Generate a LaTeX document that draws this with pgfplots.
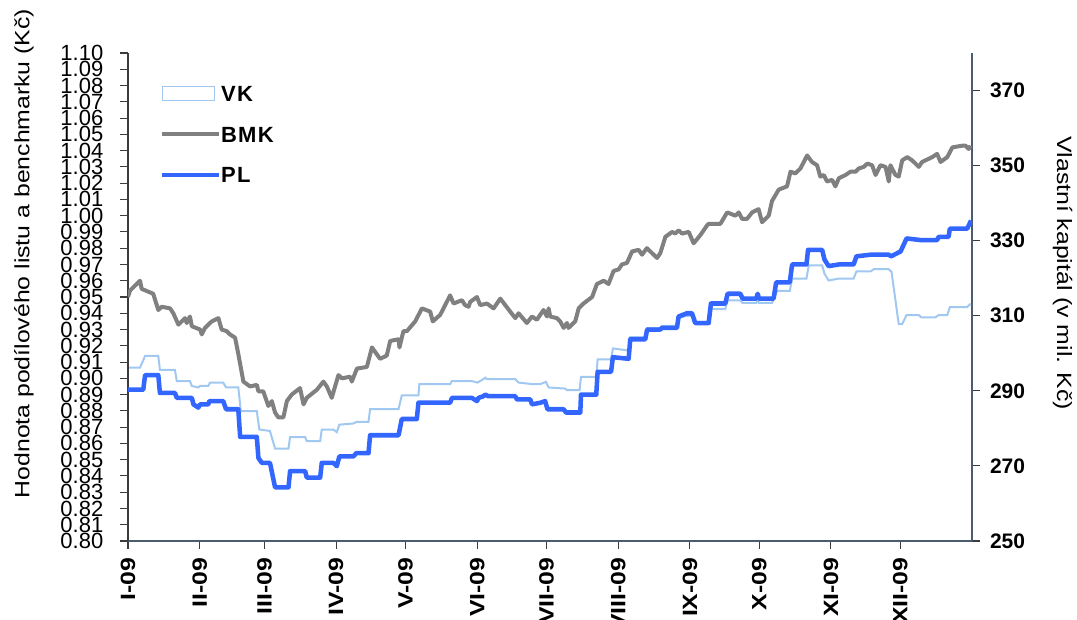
\documentclass[border=0pt]{standalone}
\usepackage{pgfplots}
\pgfplotsset{compat=1.18}
\usepackage{fontspec}
\setmainfont{Liberation Sans}
\usepackage{graphicx}
\definecolor{bmk}{RGB}{128,128,128}
\definecolor{pl}{RGB}{51,102,255}
\definecolor{vk}{RGB}{160,200,240}
\definecolor{axc}{RGB}{60,60,60}
\definecolor{axb}{RGB}{75,92,112}
\newcommand{\xl}[1]{\scalebox{1.2}[1]{#1}}
\begin{document}
\begin{tikzpicture}
\pgfplotsset{
  base/.style={scale only axis, width=633pt, height=366pt, xmin=0, xmax=365,
    at={(0,0)}, anchor=south west, tick align=outside, major tick length=6pt,
    /pgf/number format/assume math mode=true},
}
% right axis: VK
\begin{axis}[base, axis x line=none, axis y line*=right,
  ymin=250, ymax=380, ytick={250,270,290,310,330,350,370},
  yticklabel style={font=\bfseries\fontsize{15.75}{16}\selectfont},
  yticklabel shift=4pt,
  y axis line style={axb, line width=1pt}, ytick style={axc, line width=0.8pt},
  ylabel={\scalebox{1.2}[1]{\fontsize{15.5}{16}\selectfont Vlastní kapitál (v mil. Kč)}},
  ylabel style={at={(axis description cs:1.1074,0.549)}, anchor=center, rotate=180},
]
\addplot[vk, line width=1.5pt] coordinates {
(0,296.2) (5.2,296.2) (7.4,299.3) (13.1,299.3) (13.8,295.6) (20.3,295.6) (21.1,292.6) (26.8,292.6)
(27.6,291.3) (30.4,290.9) (31.2,291.3) (34.7,291.3) (35.5,292.2) (41.2,292.2) (42.4,290.9) (47.7,290.9)
(48.8,284.6) (55.7,284.6) (56.8,279.7) (61.4,279.3) (63.6,274.6) (69.4,274.6) (70.1,277.7) (76.6,277.7)
(77.3,276.6) (83.1,276.6) (83.8,279.7) (88.8,279.7) (90.3,279.0) (91.4,281.0) (97.5,281.3) (98.7,281.7)
(104.0,281.7) (104.7,285.1) (117.0,285.1) (118.4,288.8) (125.6,288.8) (126.0,291.8) (139.3,291.8)
(140.1,292.6) (148.7,292.6) (151.1,292.2) (153.1,292.9) (154.5,293.5) (155.2,293.1) (167.5,293.1)
(168.9,292.2) (174.7,291.8) (178.3,291.8) (180.7,292.4) (181.9,290.9) (189.1,290.6) (189.8,290.2)
(195.3,290.2) (195.9,293.7) (202.5,293.7) (203.1,298.4) (208.9,298.4) (209.7,301.3) (216.9,300.7)
(217.2,304.3) (223.7,304.3) (224.5,306.7) (230.2,306.7) (230.9,307.3) (237.4,307.3) (238.1,309.4)
(241.7,310.0) (243.9,310.0) (245.3,308.4) (251.1,308.4) (252.1,311.8) (258.3,311.8) (259.3,314.1)
(264.8,314.1) (265.8,313.4) (271.7,313.4) (272.3,314.1) (272.9,313.4) (278.5,313.4) (280.7,316.6)
(286.2,316.6) (287.2,319.9) (293.4,319.9) (294.4,323.4) (300.2,323.4) (301.2,321.2) (303.0,319.4)
(307.4,319.9) (313.8,319.9) (315.0,321.8) (321.1,321.8) (322.5,322.4) (329.0,322.4) (330.2,321.7)
(333.3,307.8) (334.8,307.8) (336.7,310.2) (342.0,310.2) (343.0,309.6) (349.2,309.6) (350.6,310.2)
(354.3,310.2) (355.4,312.3) (362.9,312.3) (364.4,313.2)
};
\end{axis}
% left axis: BMK, PL
\begin{axis}[base, axis x line*=bottom, axis y line*=left,
  ymin=0.80, ymax=1.10,
  ytick={0.80,0.81,0.82,0.83,0.84,0.85,0.86,0.87,0.88,0.89,0.90,0.91,0.92,0.93,0.94,0.95,0.96,0.97,0.98,0.99,1.00,1.01,1.02,1.03,1.04,1.05,1.06,1.07,1.08,1.09,1.10},
  yticklabel style={font=\fontsize{16.5}{17}\selectfont, /pgf/number format/.cd, fixed, fixed zerofill, precision=2},
  yticklabel shift=9pt,
  xtick={0,31,59,90,120,151,181,212,243,273,304,334},
  xticklabels={\xl{I-09},\xl{II-09},\xl{III-09},\xl{IV-09},\xl{V-09},\xl{VI-09},\xl{VII-09},\xl{VIII-09},\xl{IX-09},\xl{X-09},\xl{XI-09},\xl{XII-09}},
  xticklabel style={font=\bfseries\fontsize{15.5}{16}\selectfont, rotate=90, anchor=east},
  xticklabel shift=3pt,
  x axis line style={axb, line width=1pt}, y axis line style={axc, line width=1pt},
  xtick style={axc, line width=0.8pt}, ytick style={axc, line width=0.8pt},
  ylabel={\scalebox{1.2}[1]{\fontsize{15.5}{16}\selectfont Hodnota podílového listu a benchmarku (Kč)}},
  ylabel style={at={(axis description cs:-0.1232,0.589)}, anchor=center},
  legend image code/.code={\draw[#1] (0pt,0pt) -- (42.75pt,0pt);},
  legend style={draw=none, fill=none, at={(0.037,0.934)}, anchor=north west, inner sep=0pt,
    row sep=18.5pt, column sep=0pt,
    font=\bfseries\fontsize{16.5}{17}\selectfont\addfontfeature{LetterSpace=6},
    nodes={inner sep=0pt, text height=12pt, text depth=0pt}},
  legend cell align=left,
]
\addlegendimage{legend image code/.code={\draw[vk, line width=1pt, fill=white] (0.75pt,-5.25pt) rectangle (39.75pt,5.25pt);}}
\addlegendentry{VK}
\addplot[bmk, line width=3pt, line join=round] coordinates {
(0,0.950) (0.9,0.954) (5.2,0.960) (5.9,0.955) (10.9,0.952) (13.1,0.942) (14.6,0.944) (18.2,0.943)
(19.6,0.940) (21.8,0.933) (24.7,0.937) (25.4,0.934) (26.8,0.938) (27.6,0.932) (31.2,0.930) (31.9,0.927)
(33.3,0.931) (36.2,0.935) (39.1,0.937) (40.5,0.930) (42.7,0.929) (44.1,0.927) (46.3,0.925) (47.7,0.915)
(49.9,0.898) (52.8,0.895) (55.7,0.896) (56.4,0.892) (58.5,0.892) (60.7,0.883) (62.2,0.886) (63.6,0.879)
(65.0,0.876) (67.2,0.876) (68.7,0.886) (70.8,0.890) (74.4,0.894) (75.9,0.884) (77.3,0.888) (81.7,0.893)
(84.5,0.898) (86.0,0.895) (88.1,0.888) (91.0,0.902) (92.5,0.900) (96.1,0.901) (96.8,0.898) (99.0,0.906)
(103.3,0.907) (105.5,0.919) (109.0,0.912) (111.9,0.914) (113.4,0.923) (117.0,0.924) (117.4,0.919)
(119.1,0.929) (120.6,0.929) (124.2,0.935) (127.1,0.943) (130.7,0.941) (131.8,0.935) (135.0,0.939)
(139.3,0.951) (140.8,0.946) (144.4,0.948) (145.8,0.945) (147.3,0.944) (148.0,0.947) (150.9,0.950)
(152.3,0.945) (155.2,0.946) (158.1,0.943) (161.0,0.949) (165.3,0.941) (167.5,0.937) (168.9,0.940)
(172.5,0.934) (174.7,0.938) (176.8,0.936) (179.7,0.942) (181.2,0.938) (181.9,0.943) (182.6,0.938)
(185.5,0.937) (186.9,0.935) (188.4,0.931) (189.8,0.934) (190.5,0.931) (193.4,0.935) (194.9,0.943)
(197.0,0.946) (200.7,0.950) (202.8,0.958) (205.7,0.960) (207.8,0.958) (210.0,0.966) (212.2,0.967)
(213.6,0.970) (215.8,0.971) (218.0,0.978) (220.8,0.979) (222.3,0.976) (224.4,0.980) (228.8,0.974)
(230.2,0.977) (232.4,0.987) (235.3,0.990) (236.7,0.989) (238.1,0.991) (239.6,0.989) (242.5,0.990)
(244.6,0.983) (247.5,0.988) (250.4,0.994) (251.1,0.995) (256.2,0.995) (259.1,1.002) (262.7,1.000)
(264.1,1.002) (265.6,0.998) (267.7,0.998) (269.9,1.002) (272.7,1.004) (274.2,0.996) (277.1,1.000)
(278.5,1.009) (281.4,1.016) (285.0,1.018) (286.5,1.027) (288.6,1.026) (290.8,1.029) (293.7,1.037)
(295.8,1.033) (298.0,1.031) (299.4,1.024) (300.9,1.025) (302.3,1.021) (304.5,1.022) (305.9,1.018)
(307.4,1.023) (310.3,1.025) (312.4,1.027) (314.6,1.027) (316.0,1.029) (318.2,1.030) (319.7,1.032)
(321.8,1.031) (323.3,1.025) (325.4,1.031) (327.6,1.030) (329.0,1.021) (329.7,1.031) (331.9,1.025)
(333.3,1.024) (334.8,1.034) (337.0,1.036) (339.1,1.034) (342.0,1.030) (343.4,1.033) (347.8,1.036)
(349.9,1.038) (351.4,1.033) (354.3,1.036) (356.5,1.042) (360.8,1.043) (362.2,1.043) (363.6,1.041)
(364.4,1.043)
};
\addlegendentry{BMK}
\addplot[pl, line width=3.4pt, line join=round] coordinates {
(0,0.893) (6.6,0.893) (7.4,0.902) (13.1,0.902) (13.8,0.891) (20.3,0.891) (21.1,0.888) (27.6,0.888)
(28.3,0.884) (30.4,0.882) (31.2,0.884) (34.7,0.884) (35.2,0.886) (41.2,0.886) (42.4,0.881) (47.7,0.881)
(48.5,0.864) (55.7,0.864) (56.4,0.851) (57.9,0.848) (61.4,0.848) (63.6,0.833) (69.4,0.833) (70.1,0.843)
(76.6,0.843) (77.3,0.839) (83.1,0.839) (83.8,0.848) (88.8,0.848) (90.3,0.846) (91.4,0.852) (97.5,0.852)
(98.7,0.854) (104.0,0.854) (104.7,0.865) (117.0,0.865) (118.4,0.875) (124.9,0.875) (125.6,0.885)
(139.3,0.885) (140.1,0.888) (148.7,0.888) (150.9,0.886) (151.6,0.888) (153.7,0.889) (154.5,0.890)
(155.9,0.889) (167.5,0.889) (168.2,0.887) (174.0,0.887) (174.7,0.884) (178.3,0.885) (180.4,0.886)
(181.4,0.881) (188.4,0.881) (189.4,0.879) (195.6,0.879) (195.9,0.890) (202.5,0.890) (203.1,0.904)
(208.9,0.904) (209.7,0.913) (216.5,0.912) (217.2,0.924) (223.7,0.924) (224.5,0.930) (230.2,0.930)
(230.9,0.931) (237.4,0.931) (238.1,0.938) (241.7,0.940) (243.9,0.940) (245.3,0.934) (251.1,0.934)
(252.1,0.946) (258.3,0.946) (259.3,0.952) (264.8,0.952) (265.8,0.949) (271.7,0.949) (272.3,0.952)
(272.9,0.949) (279.2,0.949) (280.3,0.959) (286.2,0.959) (287.2,0.970) (293.4,0.970) (294.1,0.979)
(300.2,0.979) (301.2,0.973) (303.0,0.969) (307.4,0.970) (313.8,0.970) (315.0,0.975) (321.1,0.976)
(322.5,0.976) (329.0,0.976) (330.0,0.975) (334.1,0.978) (336.7,0.986) (342.7,0.985) (349.9,0.985)
(350.6,0.987) (354.9,0.987) (355.4,0.992) (362.9,0.992) (364.6,0.997)
};
\addlegendentry{PL}
\end{axis}
\pgfresetboundingbox
\useasboundingbox (-96pt,-59.25pt) rectangle (711.75pt,405.75pt);
\end{tikzpicture}
\end{document}
